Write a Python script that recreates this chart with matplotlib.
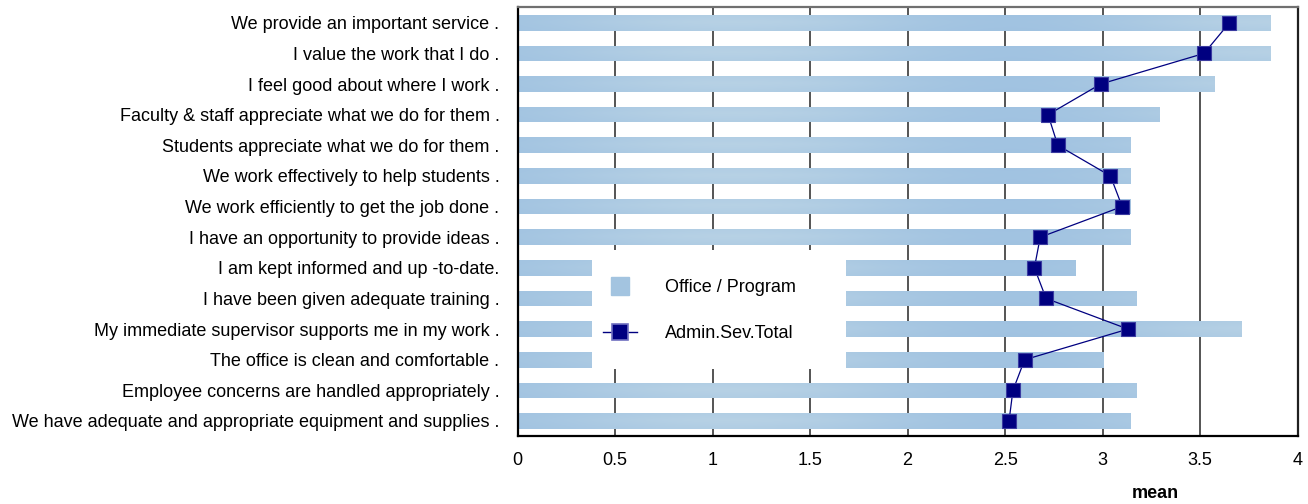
import matplotlib
matplotlib.use("Agg")
import matplotlib.pyplot as plt
import numpy as np
from matplotlib.lines import Line2D
from matplotlib.patches import Rectangle

categories = [
    "We provide an important service .",
    "I value the work that I do .",
    "I feel good about where I work .",
    "Faculty & staff appreciate what we do for them .",
    "Students appreciate what we do for them .",
    "We work effectively to help students .",
    "We work efficiently to get the job done .",
    "I have an opportunity to provide ideas .",
    "I am kept informed and up -to-date.",
    "I have been given adequate training .",
    "My immediate supervisor supports me in my work .",
    "The office is clean and comfortable .",
    "Employee concerns are handled appropriately .",
    "We have adequate and appropriate equipment and supplies .",
]
office_program = [3.86, 3.86, 3.57, 3.29, 3.14, 3.14, 3.14, 3.14,
                  2.86, 3.17, 3.71, 3.00, 3.17, 3.14]
admin_total = [3.65, 3.52, 2.99, 2.72, 2.77, 3.04, 3.10, 2.68,
               2.65, 2.71, 3.13, 2.60, 2.54, 2.52]
xticks = [0, 0.5, 1, 1.5, 2, 2.5, 3, 3.5, 4]
xtick_labels = ["0", "0.5", "1", "1.5", "2", "2.5", "3", "3.5", "4"]

FONT = "Liberation Sans"
FS = 13
BAR = "#a3c4e0"
NAVY = "#000080"

fig = plt.figure(figsize=(13.08, 5.04), dpi=100)
ax = fig.add_axes([517.5 / 1308, 1 - 435.7 / 504, (1297.7 - 517.5) / 1308, (435.7 - 7.3) / 504])

y = np.arange(len(categories))

# gridlines
for xv in xticks[1:-1]:
    ax.axvline(xv, color="#262626", lw=1.1, zorder=1)

bars = ax.barh(y, office_program, height=0.51, color=BAR, zorder=2, linewidth=0)

# subtle texture gradient clipped to each bar
xs = np.linspace(0, 4, 400)
tex = 0.5 + 0.5 * np.cos((xs - 1.1) * 2.2) * 0.6
tex = np.tile(tex, (8, 1))
vert = np.linspace(0, 1, 8)[:, None]
tex = tex * (1 - 0.4 * np.abs(vert - 0.45))
cmap = matplotlib.colors.LinearSegmentedColormap.from_list("b", ["#9bbfe0", "#bed6e6"])
for b in bars:
    im = ax.imshow(tex, extent=[0, 4, b.get_y() + b.get_height(), b.get_y()],
                   aspect="auto", cmap=cmap, vmin=0, vmax=1, zorder=2.5,
                   interpolation="bilinear")
    im.set_clip_path(b)

ax.plot(admin_total, y, color=NAVY, lw=0.9, marker="s", ms=9.5,
        mfc=NAVY, mec="#3a3aa0", mew=0.8, zorder=6)

ax.set_xlim(0, 4)
ax.set_ylim(len(categories) - 0.52, -0.505)
ax.set_yticks(y)
ax.set_yticklabels(categories, fontsize=FS, family=FONT)
ax.set_xticks(xticks)
ax.set_xticklabels(xtick_labels, fontsize=FS, family=FONT)
ax.tick_params(axis="both", length=0)
ax.tick_params(axis="y", pad=13)
ax.tick_params(axis="x", pad=12)

for s in ["left", "bottom"]:
    ax.spines[s].set_color("black")
    ax.spines[s].set_linewidth(1.6)
for s in ["top", "right"]:
    ax.spines[s].set_color("#707070")
    ax.spines[s].set_linewidth(1.6)
ax.spines["right"].set_color("#202020")

# legend background box
ax.add_patch(Rectangle((0.0955, 0.1557), 0.3255, 0.278, transform=ax.transAxes,
                       facecolor="white", edgecolor="none", zorder=7))
handles = [
    Line2D([], [], marker="s", ls="none", color=BAR, ms=13),
    Line2D([], [], marker="s", color=NAVY, lw=1.0, ms=12, mfc=NAVY, mec="#7070c0", mew=1.2),
]
leg = ax.legend(handles, ["Office / Program", "Admin.Sev.Total"],
                loc="upper left", bbox_to_anchor=(0.1096, 0.365),
                frameon=False, borderpad=0, borderaxespad=0,
                handlelength=1.9, handletextpad=1.55, labelspacing=1.58,
                prop={"family": FONT, "size": FS})
leg.set_zorder(8)

fig.text(1155 / 1308, 1 - 493 / 504, "mean", ha="center", va="center",
         fontsize=FS, fontweight="bold", family=FONT)

fig.savefig("out.png", dpi=100)
